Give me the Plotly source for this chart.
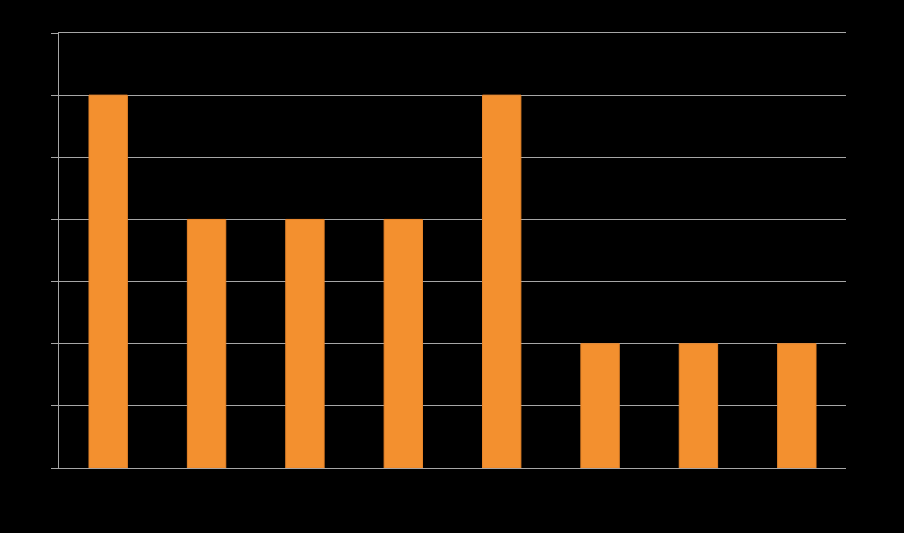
import plotly.graph_objects as go

categories = ["A", "B", "C", "D", "E", "F", "G", "H"]
values = [6, 4, 4, 4, 6, 2, 2, 2]

fig = go.Figure(go.Bar(
    x=categories, y=values,
    marker=dict(color="#F3902F", line=dict(color="#E8852A", width=1)),
    width=0.39,
    hoverinfo="skip",
))

fig.update_layout(
    width=904, height=533,
    paper_bgcolor="black", plot_bgcolor="black",
    margin=dict(l=59, r=58, t=33, b=65),
    showlegend=False,
    bargap=0.61,
)
fig.update_xaxes(showticklabels=False, showgrid=False, showline=True,
                 linecolor="#A6A6A6", linewidth=1, ticks="", mirror=True)
fig.update_yaxes(range=[0, 7], dtick=1, showticklabels=False, showgrid=True,
                 gridcolor="#A6A6A6", gridwidth=1, showline=True,
                 linecolor="#A6A6A6", linewidth=1, ticks="outside",
                 ticklen=7, tickcolor="#A6A6A6", zeroline=False)

fig.write_html(
    "out.html",
    config={"displayModeBar": False},
    post_script="document.body.style.margin='0';document.body.style.background='black';document.body.style.overflow='hidden';",
)
